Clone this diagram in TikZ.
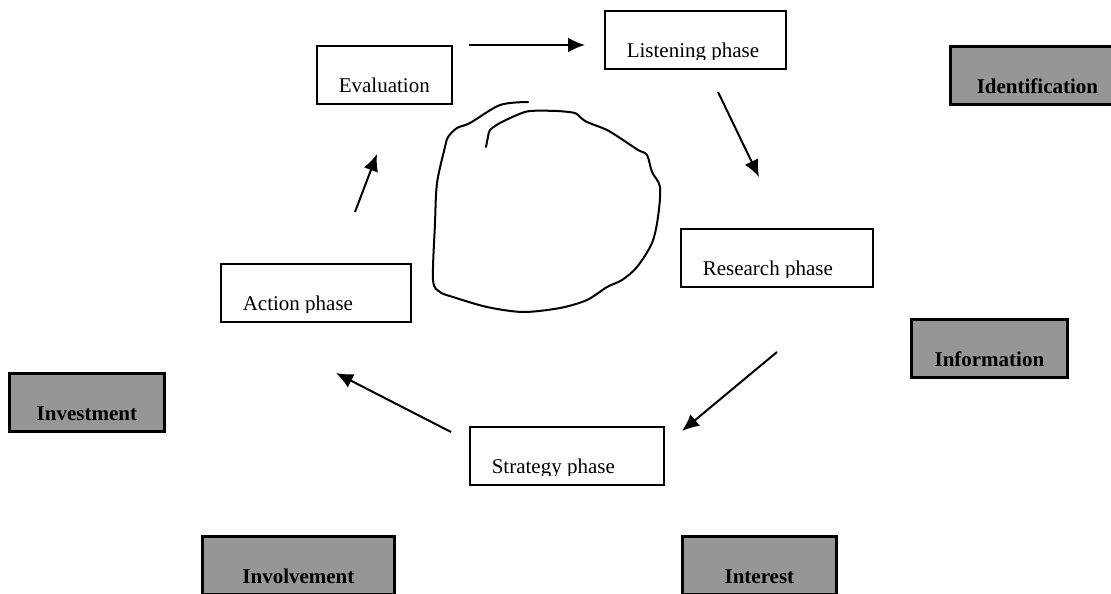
\documentclass[tikz,border=0pt]{standalone}
\usepackage{fontspec}
\setmainfont{Liberation Serif}
\usetikzlibrary{arrows.meta}
\definecolor{boxgray}{RGB}{150,150,150}

\begin{document}
\begin{tikzpicture}[x=0.5pt,y=-0.5pt,->,>={Latex[length=8.5pt,width=7.5pt]},line width=1pt,font=\fontsize{10.5}{12}\selectfont]
\tikzset{phase/.style={draw,line width=0.9pt,anchor=north west,minimum height=29pt,inner sep=0pt,
  path picture={\clip ([yshift=4.5pt]path picture bounding box.south west) rectangle (path picture bounding box.north east);
  \node[draw=none,anchor=base west,inner sep=0pt,minimum width=0pt,minimum height=0pt]
    at ([xshift=10.5pt,yshift=5.5pt]path picture bounding box.south west) {#1};}}}
\tikzstyle{stage}=[draw,fill=boxgray,line width=1.4pt,anchor=north west,minimum height=29pt,inner sep=0pt,
  text height=23.5pt,text depth=5.5pt,font=\fontsize{10.5}{12}\selectfont\bfseries]
\clip (0,0) rectangle (1111,593);

\node[phase=Evaluation,minimum width=67.5pt] (eval) at (316,45) {};
\node[phase=Listening phase,minimum width=90.5pt] (listen) at (604,10) {};
\node[phase=Research phase,minimum width=96pt] (research) at (680,228) {};
\node[phase=Strategy phase,minimum width=97pt] (strategy) at (469,426) {};
\node[phase=Action phase,minimum width=95pt] (action) at (220,263) {};

\node[stage,minimum width=87pt] (ident) at (949,45) {Identification};
\node[stage,minimum width=78pt] (info) at (910,318) {Information};
\node[stage,minimum width=77.5pt] (invest) at (8,372) {Investment};
\node[stage,minimum width=96pt] (involve) at (201,535) {Involvement};
\node[stage,minimum width=77pt] (interest) at (681,535) {Interest};

\coordinate (e1) at (469,45);  \coordinate (l1) at (585,45);
\coordinate (l2) at (718,92);  \coordinate (r1) at (759,177);
\coordinate (r2) at (777,352); \coordinate (s1) at (682,431);
\coordinate (s2) at (451,432); \coordinate (a1) at (336,373);
\coordinate (a2) at (355,212); \coordinate (e2) at (377,154);
\draw (e1) -- (l1);
\draw (l2) -- (r1);
\draw (r2) -- (s1);
\draw (s2) -- (a1);
\draw (a2) -- (e2);

\draw[-,line cap=round] plot[smooth,tension=0.5] coordinates {(528,102) (500,105) (470,123) (457,128) (448,137)
  (445,147) (437,183) (435,223) (433,280) (440,292) (453,297) (487,307) (523,312) (560,308) (587,300)
  (607,287) (622,280) (637,267) (652,243) (658,217) (660,187) (652,172) (647,155) (638,150) (623,140)
  (607,130) (587,122) (580,117) (575,113) (557,111) (530,111) (517,115) (500,123) (490,130) (488,137) (486,147)};
\end{tikzpicture}
\end{document}
